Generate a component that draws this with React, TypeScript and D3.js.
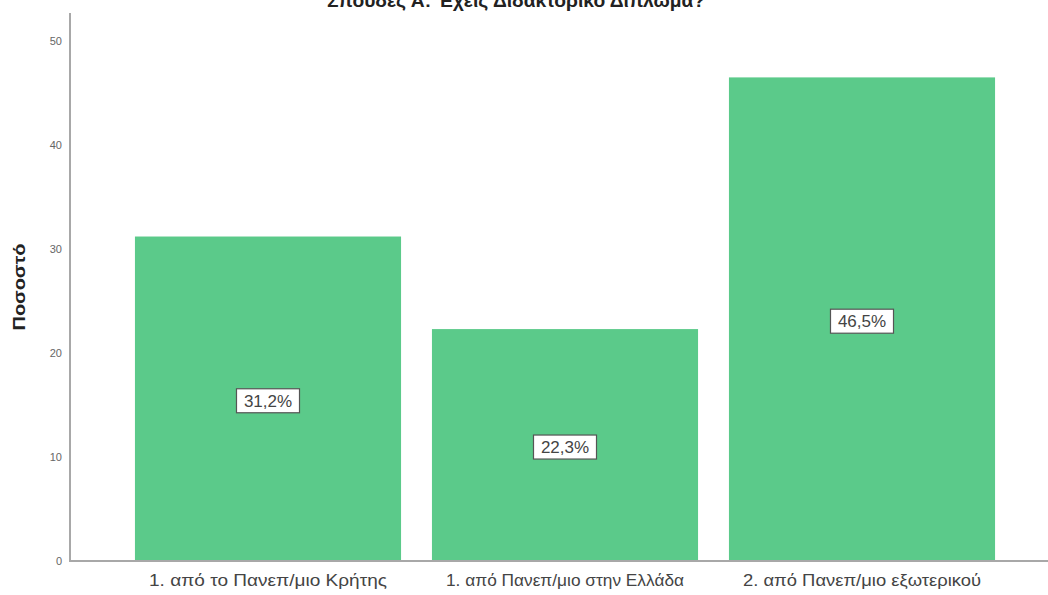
import React from "react";
import * as d3 from "d3";

const title = "Σπουδες Α: Έχεις Διδακτορικό Δίπλωμα?";
const yLabel = "Ποσοστό";
const categories = [
  "1. από το Πανεπ/μιο Κρήτης",
  "1. από Πανεπ/μιο στην Ελλάδα",
  "2. από Πανεπ/μιο εξωτερικού",
];
const values = [31.2, 22.3, 46.5];
const valueLabels = ["31,2%", "22,3%", "46,5%"];
const yTicks = [0, 10, 20, 30, 40, 50];

const W = 1048;
const H = 595;

export default function App() {
  const y = d3.scaleLinear().domain([0, 50]).range([561, 41]);
  const x = d3
    .scaleBand<string>()
    .domain(categories)
    .range([119.5, 1010.5])
    .paddingInner(0.104)
    .paddingOuter(0.052);
  const font = "'Liberation Sans', Arial, sans-serif";
  return (
    <svg
      width={W}
      height={H}
      style={{ position: "absolute", left: 0, top: 0, background: "#fff" }}
      fontFamily={font}
    >
      <text
        x={516}
        y={7}
        textAnchor="middle"
        fontWeight="bold"
        fontSize={18}
        textLength={378}
        lengthAdjust="spacingAndGlyphs"
        fill="#222"
      >
        {title}
      </text>
      {categories.map((c, i) => (
        <rect
          key={c}
          x={x(c)}
          y={y(values[i])}
          width={x.bandwidth()}
          height={y(0) - y(values[i])}
          fill="#5bca8a"
        />
      ))}
      <line x1={70} x2={70} y1={13} y2={561} stroke="#a8a8a8" strokeWidth={2} />
      <line x1={69} x2={W} y1={561} y2={561} stroke="#a8a8a8" strokeWidth={2} />
      {yTicks.map((t) => (
        <text key={t} x={62} y={y(t) + 4} textAnchor="end" fontSize={11} fill="#666">
          {t}
        </text>
      ))}
      <text
        transform={`translate(25,287) rotate(-90)`}
        textAnchor="middle"
        fontWeight="bold"
        fontSize={17}
        textLength={87}
        lengthAdjust="spacingAndGlyphs"
        fill="#222"
      >
        {yLabel}
      </text>
      {categories.map((c) => (
        <text
          key={c}
          x={(x(c) as number) + x.bandwidth() / 2}
          y={586}
          textAnchor="middle"
          fontSize={17}
          textLength={238}
          lengthAdjust="spacingAndGlyphs"
          fill="#444"
        >
          {c}
        </text>
      ))}
      {categories.map((c, i) => {
        const cx = (x(c) as number) + x.bandwidth() / 2;
        const cy = (y(values[i]) + y(0)) / 2 + 2;
        const w = 63;
        const h = 24;
        return (
          <g key={c}>
            <rect x={cx - w / 2} y={cy - h / 2} width={w} height={h} fill="#fff" stroke="#555" strokeWidth={1.2} />
            <text x={cx} y={cy + 6} textAnchor="middle" fontSize={17} fill="#444">
              {valueLabels[i]}
            </text>
          </g>
        );
      })}
    </svg>
  );
}
